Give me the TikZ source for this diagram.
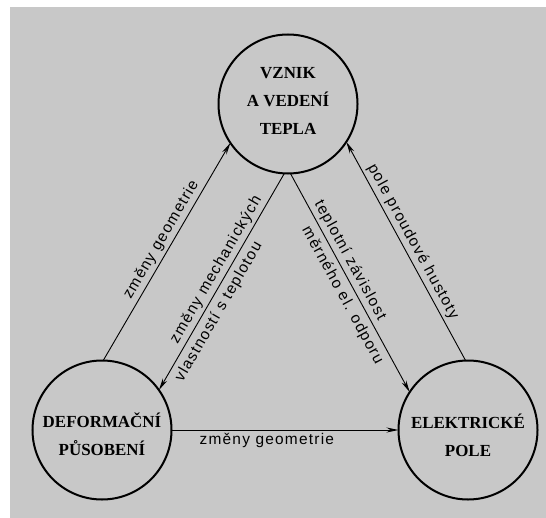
\documentclass[tikz,border=0pt]{standalone}
\usepackage{fontspec}
\setmainfont{Liberation Serif}
\newfontfamily\lblfont[LetterSpace=8]{Liberation Sans}
\usetikzlibrary{arrows.meta}
\definecolor{bg}{RGB}{200,200,200}
\begin{document}
\begin{tikzpicture}[x=1bp,y=-1bp,
  bubble/.style={circle,draw,line width=2bp,minimum size=139bp,inner sep=0pt,outer sep=0pt},
  title/.style={font=\fontsize{17}{28}\selectfont\bfseries,align=center,inner sep=0pt},
  conn/.style={line width=0.9bp,-{Stealth[length=12bp,width=5bp]}},
  lbl/.style={font=\fontsize{15.5}{18}\selectfont\lblfont,sloped,inner sep=3bp},
  farlbl/.style={lbl,inner sep=5bp}]
\useasboundingbox (0,0) rectangle (546,518);
\fill[white] (0,0) rectangle (546,518);
\fill[bg] (10,7) rectangle (546,518);

\node[bubble] (heat) at (288,104) {};
\node[title] (heattext) at (288,101) {VZNIK\\A VEDENÍ\\TEPLA};
\node[bubble] (def) at (102,430) {};
\node[title] (deftext) at (102,434) {DEFORMAČNÍ\\PŮSOBENÍ};
\node[bubble] (ele) at (468,430) {};
\node[title] (eletext) at (468,435) {ELEKTRICKÉ\\POLE};

\draw[conn] (def.89) -- (heat.214)
  node[lbl,pos=0.53,above] {změny geometrie};
\draw[conn] (heat.267) -- (def.35)
  node[lbl,pos=0.47,above] {změny mechanických}
  node[farlbl,pos=0.61,below] {vlastností s teplotou};
\draw[conn] (heat.272) -- (ele.147)
  node[lbl,pos=0.42,above] {teplotní závislost}
  node[farlbl,pos=0.53,below] {měrného el. odporu};
\draw[conn] (ele.92) -- (heat.327)
  node[lbl,pos=0.52,above] {pole proudové hustoty};
\draw[conn] (def.east) -- (ele.west)
  node[lbl,pos=0.42,below] {změny geometrie};
\end{tikzpicture}
\end{document}
